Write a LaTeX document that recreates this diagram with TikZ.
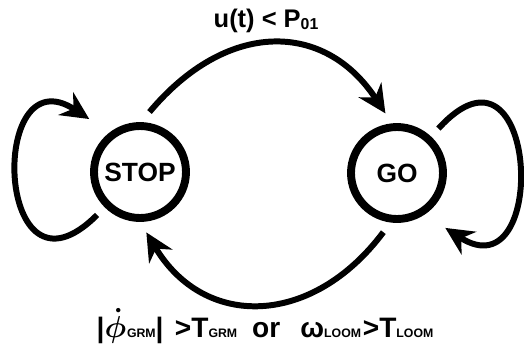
\documentclass[tikz,border=0pt]{standalone}
\usepackage{amsmath,amssymb}
\usepackage{fontspec}
\setmainfont{Liberation Sans}
\usepackage{tikz}
\usetikzlibrary{arrows.meta}

% small subscript set on the baseline
\newcommand{\subtxt}[1]{{\fontsize{7}{8}\selectfont #1}}

\begin{document}
\begin{tikzpicture}[x=0.02cm,y=-0.02cm,font=\bfseries\fontsize{15}{18}\selectfont,
  state/.style={circle,draw,line width=4.5pt,minimum size=1.84cm,inner sep=0pt,outer sep=0.295cm},
  trans/.style={-{Stealth[length=0.56cm,width=0.54cm]},line width=3.4pt}]
\path[use as bounding box] (0,0) rectangle (524,349);
\node[state] (stop) at (140,172) {STOP};
\node[state] (go) at (397,173) {GO};
% stop -> go
\draw[trans] (stop.81.5) .. controls +(77,-92) and +(-61,-93) .. (go.101.3);
\node[anchor=base,font=\bfseries\fontsize{14.5}{17}\selectfont] (golabel) at (266,27)
{u(t) < P\raisebox{-1.5pt}{\fontsize{9}{10}\selectfont 01}};
% go -> stop
\draw[trans] (go.257.3) .. controls +(-71,95) and +(58,97) .. (stop.276.5);
\node[anchor=base,font=\bfseries\fontsize{16}{19}\selectfont,inner sep=0pt] (stoplabel) at (265,337)
{|$\boldsymbol{\dot{\phi}}$\kern0.5pt\subtxt{GRM}| \kern2pt>T\subtxt{GRM}\hspace{8.5pt}or\hspace{11.5pt}ω\subtxt{LOOM}\kern1pt>T\subtxt{LOOM}};
% self loops
\draw[trans,shorten >=0.26cm] (stop.225.7) .. controls +(-102,102) and +(-113,-74) .. (stop.131.2);
\draw[trans,shorten >=0.26cm] (go.47) .. controls +(100,-110) and +(116,75) .. (go.308.4);
\end{tikzpicture}
\end{document}
